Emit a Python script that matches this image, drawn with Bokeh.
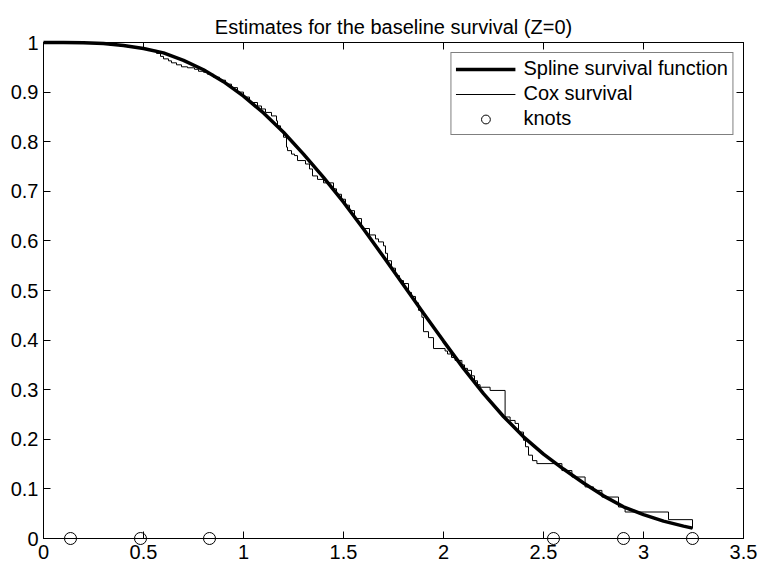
from bokeh.plotting import figure
from bokeh.models import Range1d, LinearAxis, FixedTicker, Legend, LegendItem
from bokeh.embed import file_html
from bokeh.resources import INLINE

# ---- data ----
spline_t = [0.0, 0.1, 0.2, 0.3, 0.4, 0.5, 0.6, 0.7, 0.8, 0.9, 1.0, 1.1, 1.2, 1.3,
            1.4, 1.5, 1.6, 1.7, 1.8, 1.9, 2.0, 2.1, 2.2, 2.3, 2.4, 2.5, 2.6, 2.7,
            2.8, 2.9, 3.0, 3.1, 3.2, 3.245]
spline_s = [1.000, 1.000, 0.9995, 0.998, 0.994, 0.988, 0.979, 0.964, 0.945, 0.921,
            0.892, 0.858, 0.819, 0.775, 0.728, 0.678, 0.624, 0.568, 0.511, 0.454,
            0.398, 0.343, 0.292, 0.246, 0.205, 0.170, 0.140, 0.112, 0.086, 0.064,
            0.048, 0.035, 0.025, 0.021]

cox_t = [0.0, 0.22, 0.28, 0.33, 0.38, 0.42, 0.47, 0.52, 0.565, 0.585, 0.60, 0.625,
         0.64, 0.665, 0.69, 0.72, 0.755, 0.775, 0.80, 0.82, 0.85, 0.88, 0.91, 0.94,
         0.97, 1.00, 1.03, 1.07, 1.09, 1.11, 1.14, 1.165, 1.17, 1.185, 1.20, 1.215,
         1.22, 1.24, 1.255, 1.27, 1.31, 1.33, 1.345, 1.37, 1.40, 1.45, 1.465, 1.49,
         1.51, 1.53, 1.555, 1.59, 1.63, 1.66, 1.675, 1.70, 1.71, 1.72, 1.74, 1.76,
         1.78, 1.80, 1.825, 1.84, 1.86, 1.875, 1.892, 1.90, 1.925, 1.95, 2.008,
         2.02, 2.04, 2.058, 2.092, 2.105, 2.12, 2.14, 2.155, 2.17, 2.183, 2.233,
         2.308, 2.333, 2.358, 2.375, 2.40, 2.41, 2.425, 2.445, 2.467, 2.592,
         2.642, 2.708, 2.75, 2.792, 2.875, 2.908, 3.125, 3.245]
cox_s = [1.000, 0.999, 0.997, 0.995, 0.993, 0.991, 0.988, 0.984, 0.978, 0.972,
         0.967, 0.963, 0.959, 0.955, 0.951, 0.949, 0.946, 0.942, 0.940, 0.936,
         0.930, 0.924, 0.916, 0.909, 0.900, 0.890, 0.879, 0.872, 0.866, 0.859,
         0.852, 0.842, 0.832, 0.822, 0.809, 0.789, 0.782, 0.775, 0.772, 0.762,
         0.755, 0.745, 0.731, 0.724, 0.717, 0.705, 0.694, 0.684, 0.672, 0.661,
         0.645, 0.625, 0.612, 0.604, 0.598, 0.590, 0.575, 0.560, 0.545, 0.530,
         0.520, 0.514, 0.496, 0.488, 0.475, 0.460, 0.446, 0.417, 0.405, 0.383,
         0.378, 0.372, 0.365, 0.359, 0.350, 0.343, 0.339, 0.328, 0.318, 0.310,
         0.305, 0.2985, 0.245, 0.238, 0.232, 0.2145, 0.198, 0.185, 0.168, 0.157,
         0.151, 0.137, 0.124, 0.104, 0.097, 0.0836, 0.0635, 0.0534, 0.038, 0.020]

knots_t = [0.135, 0.485, 0.83, 2.55, 2.90, 3.245]
knots_s = [0, 0, 0, 0, 0, 0]

x_ticks = [0, 0.5, 1, 1.5, 2, 2.5, 3, 3.5]
x_tick_labels = ["0", "0.5", "1", "1.5", "2", "2.5", "3", "3.5"]
y_ticks = [0, 0.1, 0.2, 0.3, 0.4, 0.5, 0.6, 0.7, 0.8, 0.9, 1]
y_tick_labels = ["0", "0.1", "0.2", "0.3", "0.4", "0.5", "0.6", "0.7", "0.8", "0.9", "1"]

title_text = "Estimates for the baseline survival (Z=0)"
legend_labels = ["Spline survival function", "Cox survival", "knots"]

FONT = "Liberation Sans"

p = figure(width=758, height=567, x_range=Range1d(0, 3.5), y_range=Range1d(0, 1),
           output_backend="svg", toolbar_location=None,
           min_border_left=43, min_border_right=15, min_border_top=42,
           min_border_bottom=29, title=title_text)
p.background_fill_color = "white"
p.border_fill_color = "white"
p.outline_line_color = "black"
p.grid.visible = False

p.title.align = "center"
p.title.text_font = FONT
p.title.text_font_size = "20px"
p.title.text_font_style = "normal"
p.title.text_color = "black"
p.title.standoff = 10

def style_axis(ax, ticks, labels, show_labels, standoff):
    ax.ticker = FixedTicker(ticks=ticks)
    ax.major_label_overrides = {t: l for t, l in zip(ticks, labels)}
    ax.major_tick_in = 7
    ax.major_tick_out = 0
    ax.minor_tick_line_color = None
    ax.axis_line_color = "black"
    ax.major_tick_line_color = "black"
    ax.major_label_text_font = FONT
    ax.major_label_text_font_size = "20px"
    ax.major_label_standoff = standoff
    ax.major_label_text_color = "black" if show_labels else None

style_axis(p.xaxis[0], x_ticks, x_tick_labels, True, 6)
style_axis(p.yaxis[0], y_ticks, y_tick_labels, True, 5)

# box-style ticks on the top and right edges (no labels)
top_ax = LinearAxis()
style_axis(top_ax, x_ticks, x_tick_labels, False, 0)
p.add_layout(top_ax, "above")
right_ax = LinearAxis()
style_axis(right_ax, y_ticks, y_tick_labels, False, 0)
p.add_layout(right_ax, "right")

r_cox = p.step(x=cox_t, y=cox_s, mode="after", line_color="black", line_width=1)
r_spline = p.line(x=spline_t, y=spline_s, line_color="black", line_width=3.5,
                  level="overlay")
r_knots = p.scatter(x=knots_t, y=knots_s, marker="circle", size=12,
                    fill_color=None, line_color="black", line_width=1,
                    level="overlay")

legend = Legend(items=[LegendItem(label=legend_labels[0], renderers=[r_spline]),
                       LegendItem(label=legend_labels[1], renderers=[r_cox]),
                       LegendItem(label=legend_labels[2], renderers=[r_knots])],
                location="top_right")
legend.label_text_font = FONT
legend.label_text_font_size = "20px"
legend.label_text_color = "black"
legend.glyph_width = 60
legend.glyph_height = 22
legend.label_height = 22
legend.spacing = 2
legend.padding = 4
legend.margin = 10
legend.label_standoff = 8
legend.border_line_color = "black"
legend.border_line_width = 1
legend.background_fill_alpha = 1
p.add_layout(legend)

open("out.html", "w").write(file_html(p, INLINE))
